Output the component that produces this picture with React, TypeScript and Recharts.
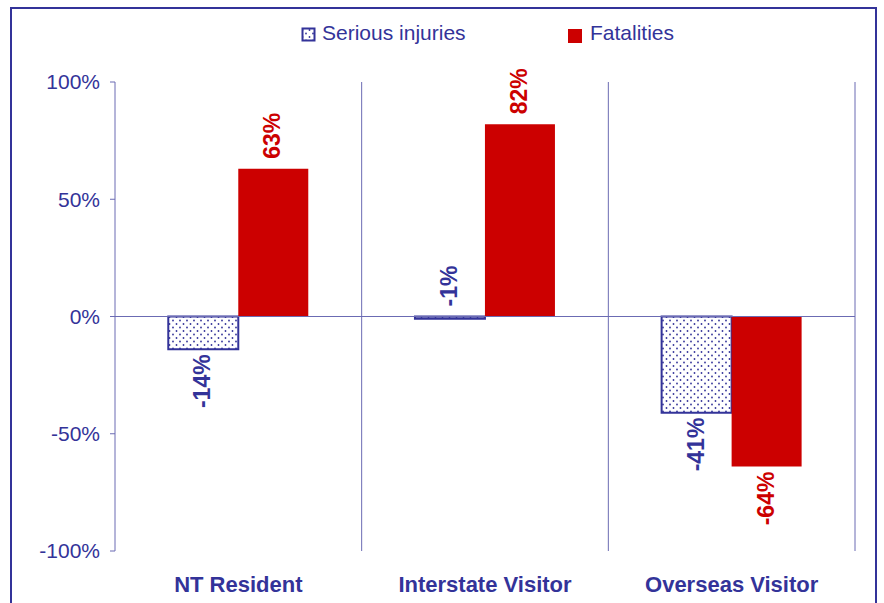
import { BarChart, Bar, XAxis, YAxis, CartesianGrid, ReferenceLine, LabelList } from "recharts";

const categories = ["NT Resident", "Interstate Visitor", "Overseas Visitor"];
const seriousInjuries = [-14, -1, -41];
const fatalities = [63, 82, -64];
const yTicks = [-100, -50, 0, 50, 100];
const seriesNames = ["Serious injuries", "Fatalities"];

const BLUE = "#333399";
const RED = "#CC0000";
const LINE = "#6b6bb3";
const FONT = "'Liberation Sans', Arial, Helvetica, sans-serif";

const data = categories.map((name, i) => ({
  name,
  serious: seriousInjuries[i],
  fatal: fatalities[i],
}));

function makeLabel(color: string) {
  return (props: any) => {
    const { x, y, width, height, value } = props;
    const cx = Number(x) + Number(width) / 2 - 1;
    const top = Math.min(Number(y), Number(y) + Number(height));
    const bottom = Math.max(Number(y), Number(y) + Number(height));
    // tiny bars get their label above the zero line
    const above = value >= 0 || bottom - top < 5;
    const yy = above ? top - 10 : bottom + 5;
    return (
      <text
        x={cx}
        y={yy}
        transform={`rotate(-90, ${cx}, ${yy})`}
        textAnchor={above ? "start" : "end"}
        dominantBaseline="central"
        fill={color}
        fontFamily={FONT}
        fontWeight="bold"
        fontSize={23}
      >
        {`${value}%`}
      </text>
    );
  };
}

function CategoryTick(props: any) {
  const { x, y, payload } = props;
  return (
    <text x={x} y={y + 41} textAnchor="middle" fill={BLUE} fontFamily={FONT} fontWeight="bold" fontSize={22}>
      {payload.value}
    </text>
  );
}

export default function App() {
  return (
    <div style={{ position: "fixed", left: 0, top: 0, width: 884, height: 603, overflow: "hidden", background: "#fff" }}>
      <BarChart
        width={884}
        height={603}
        data={data}
        margin={{ top: 82, right: 29, bottom: 12, left: 55 }}
        barCategoryGap="21.6%"
        barGap={0}
      >
        <defs>
          <pattern id="dots" width="7" height="7" patternUnits="userSpaceOnUse">
            <rect width="7" height="7" fill="#ffffff" />
            <circle cx="1.5" cy="2" r="0.9" fill={BLUE} />
            <circle cx="5" cy="5.5" r="0.9" fill={BLUE} />
          </pattern>
        </defs>
        <CartesianGrid
          horizontal={false}
          stroke={LINE}
          verticalCoordinatesGenerator={({ offset }: any) =>
            categories.map((_, i) => offset.left + (offset.width * (i + 1)) / categories.length)
          }
        />
        <XAxis dataKey="name" axisLine={false} tickLine={false} tickSize={0} tickMargin={0} height={40} tick={<CategoryTick />} interval={0} />
        <YAxis
          width={60}
          domain={[-100, 100]}
          ticks={yTicks}
          tickFormatter={(v: number) => `${v}%`}
          axisLine={{ stroke: LINE }}
          tickLine={{ stroke: LINE }}
          tickSize={5}
          tickMargin={10}
          tick={{ fill: BLUE, fontSize: 21, fontFamily: FONT }}
          allowDataOverflow
        />
        <ReferenceLine y={0} stroke={LINE} strokeWidth={1} />
        <Bar dataKey="serious" name={seriesNames[0]} fill="url(#dots)" stroke={BLUE} strokeWidth={2} isAnimationActive={false}>
          <LabelList dataKey="serious" content={makeLabel(BLUE)} />
        </Bar>
        <Bar dataKey="fatal" name={seriesNames[1]} fill={RED} isAnimationActive={false}>
          <LabelList dataKey="fatal" content={makeLabel(RED)} />
        </Bar>
      </BarChart>
      <svg width={884} height={60} style={{ position: "absolute", left: 0, top: 0 }}>
        <rect x={302.5} y={28.5} width={12} height={12} fill="url(#dots)" stroke={BLUE} strokeWidth={2} />
        <text x={322} y={40} fill={BLUE} fontFamily={FONT} fontSize={21}>
          {seriesNames[0]}
        </text>
        <rect x={568} y={29} width={14} height={14} fill={RED} />
        <text x={590} y={40} fill={BLUE} fontFamily={FONT} fontSize={21}>
          {seriesNames[1]}
        </text>
      </svg>
      <div
        style={{
          position: "absolute",
          left: 10,
          top: 7,
          width: 867,
          height: 700,
          border: `2px solid ${BLUE}`,
          boxSizing: "border-box",
        }}
      />
    </div>
  );
}
